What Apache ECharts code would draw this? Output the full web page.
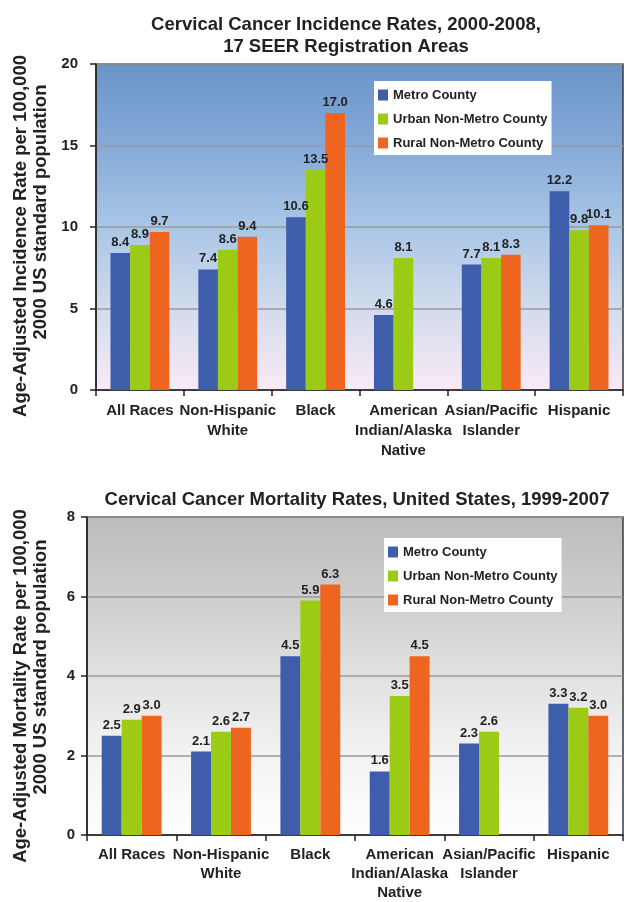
<!DOCTYPE html>
<html>
<head>
<meta charset="utf-8">
<script src="https://cdn.jsdelivr.net/npm/echarts@6/dist/echarts.min.js"></script>
<style>
  html, body { margin: 0; padding: 0; background: #fff; }
  #chart { width: 627px; height: 902px; }
</style>
</head>
<body>
<div id="chart"></div>
<script>
// Race / ethnicity groups along the x axis
const categories = [
  'All Races',
  'Non-Hispanic\nWhite',
  'Black',
  'American\nIndian/Alaska\nNative',
  'Asian/Pacific\nIslander',
  'Hispanic'
];
const seriesNames = ['Metro County', 'Urban Non-Metro County', 'Rural Non-Metro County'];

// Incidence rates per 100,000, 2000-2008 (17 SEER areas)
const incidenceMetro = [8.4, 7.4, 10.6, 4.6, 7.7, 12.2];
const incidenceUrban = [8.9, 8.6, 13.5, 8.1, 8.1, 9.8];
const incidenceRural = [9.7, 9.4, 17.0, null, 8.3, 10.1];

// Mortality rates per 100,000, United States 1999-2007
const mortalityMetro = [2.5, 2.1, 4.5, 1.6, 2.3, 3.3];
const mortalityUrban = [2.9, 2.6, 5.9, 3.5, 2.6, 3.2];
const mortalityRural = [3.0, 2.7, 6.3, 4.5, null, 3.0];

const incidenceTicks = { min: 0, max: 20, interval: 5 };
const mortalityTicks = { min: 0, max: 8, interval: 2 };

const colors = ['#3e5dab', '#9bcb14', '#ee6520'];
const FONT = 'Liberation Sans, Arial, Helvetica, sans-serif';
const INK = '#222';

const chart = echarts.init(document.getElementById('chart'), null, { renderer: 'canvas' });

function barSeries(name, data, idx, axisIndex) {
  return {
    type: 'bar',
    name: name,
    data: data,
    xAxisIndex: axisIndex,
    yAxisIndex: axisIndex,
    barGap: '0%',
    barCategoryGap: '33%',
    itemStyle: { color: colors[idx] },
    label: {
      show: true,
      position: 'top',
      distance: 4,
      fontFamily: FONT,
      fontWeight: 'bold',
      fontSize: 13,
      color: INK,
      formatter: p => (p.value == null ? '' : Number(p.value).toFixed(1))
    },
    emphasis: { disabled: true },
    animation: false
  };
}

function xAxisFor(gridIndex, margin, lineHeight) {
  return {
    type: 'category',
    gridIndex: gridIndex,
    data: categories,
    axisLine: { show: true, lineStyle: { color: INK, width: 1.5 } },
    axisTick: { show: true, length: 6, lineStyle: { color: INK, width: 1.5 } },
    axisLabel: {
      interval: 0,
      margin: margin,
      fontFamily: FONT,
      fontWeight: 'bold',
      fontSize: 15,
      lineHeight: lineHeight,
      color: INK
    }
  };
}

function yAxisFor(gridIndex, ticks, margin) {
  return {
    type: 'value',
    gridIndex: gridIndex,
    min: ticks.min,
    max: ticks.max,
    interval: ticks.interval,
    axisLine: { show: true, lineStyle: { color: INK, width: 1.5 } },
    axisTick: { show: true, length: 6, lineStyle: { color: INK, width: 1.5 } },
    axisLabel: {
      margin: margin,
      fontFamily: FONT,
      fontWeight: 'bold',
      fontSize: 15,
      color: INK
    },
    splitLine: { show: true, lineStyle: { color: '#9a9a9a', width: 1.5 } }
  };
}

function legendAt(left, top) {
  return {
    orient: 'vertical',
    left: left,
    top: top,
    data: seriesNames,
    backgroundColor: '#ffffff',
    padding: [7, 4, 5, 4],
    itemWidth: 10,
    itemHeight: 11,
    itemGap: 10,
    icon: 'rect',
    selectedMode: false,
    textStyle: {
      fontFamily: FONT,
      fontWeight: 'bold',
      fontSize: 13,
      lineHeight: 14,
      color: INK
    }
  };
}

function textAt(x, y, text, size, rotate) {
  return {
    type: 'text',
    x: x,
    y: y,
    rotation: rotate ? Math.PI / 2 : 0,
    silent: true,
    style: {
      text: text,
      align: 'center',
      verticalAlign: 'middle',
      fontFamily: FONT,
      fontWeight: 'bold',
      fontSize: size,
      lineHeight: 22,
      fill: INK
    }
  };
}

const option = {
  animation: false,
  grid: [
    {
      left: 96, top: 64, width: 527, height: 326,
      show: true,
      borderColor: '#3a3a3a',
      borderWidth: 1.5,
      backgroundColor: new echarts.graphic.LinearGradient(0, 0, 0, 1, [
        { offset: 0, color: '#6a93c9' },
        { offset: 0.25, color: '#85aad8' },
        { offset: 0.5, color: '#a9c6e6' },
        { offset: 0.75, color: '#d2dbed' },
        { offset: 1, color: '#faeaf6' }
      ])
    },
    {
      left: 87, top: 517, width: 536, height: 321,
      show: true,
      borderColor: '#3a3a3a',
      borderWidth: 1.5,
      backgroundColor: new echarts.graphic.LinearGradient(0, 0, 0, 1, [
        { offset: 0, color: '#bcbcbc' },
        { offset: 0.25, color: '#cdcdcd' },
        { offset: 0.5, color: '#e1e1e1' },
        { offset: 0.75, color: '#f3f3f3' },
        { offset: 1, color: '#ffffff' }
      ])
    }
  ],
  xAxis: [xAxisFor(0, 11, 20), xAxisFor(1, 10, 19)],
  yAxis: [yAxisFor(0, incidenceTicks, 18), yAxisFor(1, mortalityTicks, 12)],
  legend: [legendAt(374, 81), legendAt(384, 538)],
  series: [
    barSeries(seriesNames[0], incidenceMetro, 0, 0),
    barSeries(seriesNames[1], incidenceUrban, 1, 0),
    barSeries(seriesNames[2], incidenceRural, 2, 0),
    barSeries(seriesNames[0], mortalityMetro, 0, 1),
    barSeries(seriesNames[1], mortalityUrban, 1, 1),
    barSeries(seriesNames[2], mortalityRural, 2, 1)
  ],
  graphic: [
    textAt(346, 36, 'Cervical Cancer Incidence Rates, 2000-2008,\n17 SEER Registration Areas', 18.5, false),
    textAt(357, 500, 'Cervical Cancer Mortality Rates, United States, 1999-2007', 18.5, false),
    textAt(21, 236, 'Age-Adjusted Incidence Rate per 100,000', 18.5, true),
    textAt(41, 212, '2000 US standard population', 18.5, true),
    textAt(21, 686, 'Age-Adjusted Mortality Rate per 100,000', 18.5, true),
    textAt(41, 667, '2000 US standard population', 18.5, true)
  ]
};

chart.setOption(option);
</script>
</body>
</html>
